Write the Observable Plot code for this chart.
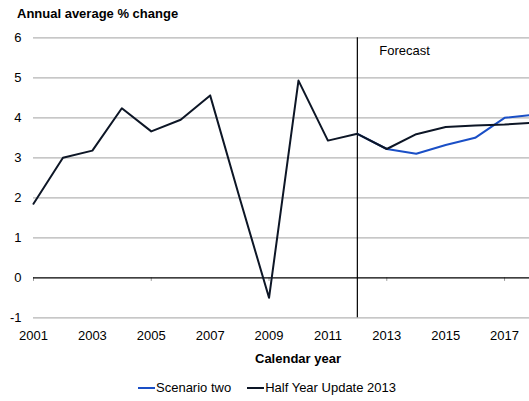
<!DOCTYPE html>
<html>
<head>
<meta charset="utf-8">
<script src="https://cdn.jsdelivr.net/npm/d3@7"></script>
<script src="https://cdn.jsdelivr.net/npm/@observablehq/plot@0.6"></script>
<style>
  html, body { margin: 0; padding: 0; background: #fff; overflow: hidden; }
  #wrap { position: relative; width: 529px; height: 401px; font-family: "Liberation Sans", Arial, sans-serif; color: #000; }
  #title { position: absolute; left: 17px; top: 6px; font-size: 13px; font-weight: bold; white-space: nowrap; }
  #xlabel { position: absolute; left: 0; width: 596px; top: 351px; text-align: center; font-size: 13px; font-weight: bold; }
  #legend { position: absolute; top: 380px; left: 138px; font-size: 13px; white-space: nowrap; display: flex; align-items: center; }
  .sw { display: inline-block; width: 17px; height: 2px; margin-right: 1px; }
  .item { display: inline-flex; align-items: center; margin-right: 16px; }
  #chart { position: absolute; left: 0; top: 0; }
</style>
</head>
<body>
<div id="wrap">
  <div id="chart"></div>
  <div id="title">Annual average % change</div>
  <div id="xlabel">Calendar year</div>
  <div id="legend">
    <span class="item"><span class="sw" style="background:#1a4fc6"></span>Scenario two</span>
    <span class="item"><span class="sw" style="background:#0d1626"></span>Half Year Update 2013</span>
  </div>
</div>
<script>
const years = [2001, 2002, 2003, 2004, 2005, 2006, 2007, 2008, 2009, 2010, 2011, 2012, 2013, 2014, 2015, 2016, 2017, 2018];
const halfYearUpdate = [1.85, 3.0, 3.18, 4.24, 3.66, 3.95, 4.56, 2.0, -0.5, 4.93, 3.43, 3.6, 3.22, 3.59, 3.77, 3.81, 3.83, 3.88];
const scenarioYears = [2012, 2013, 2014, 2015, 2016, 2017, 2018];
const scenarioTwo = [3.6, 3.22, 3.1, 3.32, 3.5, 4.0, 4.08];
const yTicks = [-1, 0, 1, 2, 3, 4, 5, 6];
const xTickLabels = [2001, 2003, 2005, 2007, 2009, 2011, 2013, 2015, 2017];
const xTickMarks = [2001, 2005, 2009, 2013, 2017];
const forecastYear = 2012;

const hyu = years.map((y, i) => ({year: y, value: halfYearUpdate[i]}));
const s2 = scenarioYears.map((y, i) => ({year: y, value: scenarioTwo[i]}));

const chart = Plot.plot({
  width: 529,
  height: 401,
  marginTop: 37.3,
  marginBottom: 83.7,
  marginLeft: 33,
  marginRight: 0,
  style: {fontFamily: "Liberation Sans, Arial, sans-serif", fontSize: "13px", color: "#000", background: "transparent"},
  x: {domain: [2001, 2018], range: [33, 533.5]},
  y: {domain: [-1, 6]},
  marks: [
    Plot.ruleY(yTicks.filter(d => d !== 0), {stroke: "#b4b4b4", strokeWidth: 1.2}),
    Plot.ruleX(xTickMarks, {y1: 0, y2: -0.09, stroke: "#9a9a9a", strokeWidth: 1}),
    Plot.ruleY([0], {stroke: "#000", strokeWidth: 1.2}),
    Plot.ruleX([forecastYear], {y1: -1, y2: 6, stroke: "#000", strokeWidth: 1.2}),
    Plot.text(["Forecast"], {x: forecastYear, y: 6, dx: 22, dy: 13, textAnchor: "start", fontSize: 13, fill: "#000"}),
    Plot.line(s2, {x: "year", y: "value", stroke: "#1a4fc6", strokeWidth: 2}),
    Plot.line(hyu, {x: "year", y: "value", stroke: "#0d1626", strokeWidth: 2}),
    Plot.axisY({ticks: yTicks, tickSize: 0, tickPadding: 12, label: null, tickFormat: d => d < 0 ? "-" + Math.abs(d) : String(d), fontSize: 13}),
    Plot.axisX({ticks: xTickLabels, tickSize: 0, tickPadding: 13, label: null, tickFormat: d => String(d), fontSize: 13})
  ]
});
document.getElementById("chart").appendChild(chart);
</script>
</body>
</html>
